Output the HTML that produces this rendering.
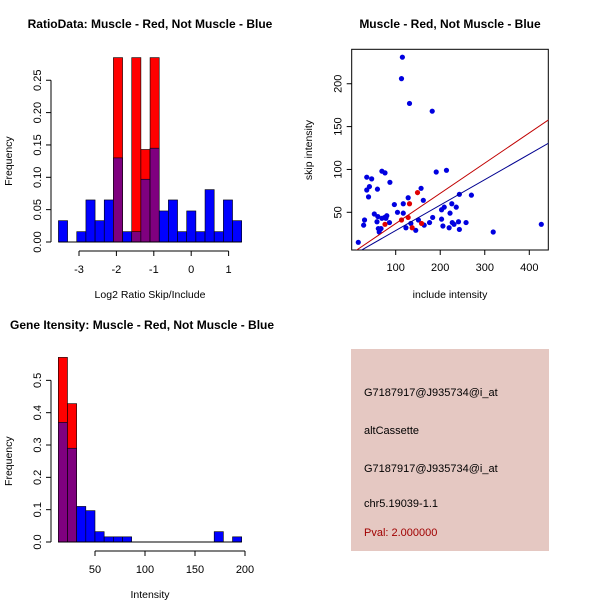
<!DOCTYPE html>
<html><head><meta charset="utf-8"><style>
html,body{margin:0;padding:0;background:#fff}
svg{display:block;font-family:"Liberation Sans",sans-serif}
</style></head><body>
<svg id="c" width="600" height="600" viewBox="0 0 600 600">
<rect width="600" height="600" fill="#fff"/>
<g id="p1"></g>
<g id="p2"></g>
<g id="p3"></g>
<g id="p4">
<rect x="351" y="349" width="198" height="202" fill="#e5c8c2"/>
<text x="364" y="396" font-size="11">G7187917@J935734@i_at</text>
<text x="364" y="434" font-size="11">altCassette</text>
<text x="364" y="472" font-size="11">G7187917@J935734@i_at</text>
<text x="364" y="507" font-size="11">chr5.19039-1.1</text>
<text x="364" y="536" font-size="11" fill="#a00000">Pval: 2.000000</text>
</g>
</svg>
<script>
// ---- Ratio histogram data ----
const ratioBinStart = -3.55, ratioBinWidth = 0.245;
const ratioBlue = [0.033,0,0.016,0.065,0.033,0.065,0.13,0.016,0.016,0.097,0.145,0.048,0.065,0.016,0.048,0.016,0.081,0.016,0.065,0.033];
const ratioRed  = [0,0,0,0,0,0,0.285,0,0.285,0.143,0.285,0,0,0,0,0,0,0,0,0];
const ratioXTicks = [-3,-2,-1,0,1];
const ratioYTicks = [0,0.05,0.10,0.15,0.20,0.25];
const ratioYLabels = ["0.00","0.05","0.10","0.15","0.20","0.25"];
// ---- Intensity histogram data ----
const intBinStart = 13.3, intBinWidth = 9.17;
const intBlue = [0.37,0.29,0.11,0.097,0.032,0.016,0.016,0.016,0,0,0,0,0,0,0,0,0,0.032,0,0.016];
const intRed  = [0.571,0.428,0,0,0,0,0,0,0,0,0,0,0,0,0,0,0,0,0,0];
const intXTicks = [50,100,150,200];
const intYTicks = [0,0.1,0.2,0.3,0.4,0.5];
const intYLabels = ["0.0","0.1","0.2","0.3","0.4","0.5"];
// ---- Scatter data ----
const blueX = [115,113,131,182,16,30,28,35,35,41,46,39,59,69,76,87,52,60,58,61,63,67,69,78,86,75,80,97,104,117,117,123,128,134,145,151,157,162,164,176,183,191,203,206,209,203,214,222,220,226,227,231,236,241,243,243,258,270,319,427];
const blueY = [231,206,177,168,15,41,35,91,76,80,89,68,77,98,96,85,48,45,39,31,27,31,43,43,38,44,46,59,50,60,49,32,67,37,29,41,78,64,35,38,44,97,42,34,56,53,99,49,32,60,38,36,56,39,71,30,38,70,27,36];
const redX = [76,113,128,131,137,149,158];
const redY = [36,41,44,60,32,73,37];
const redFit = [1.6,0.3526];   // intercept, slope
const blueFit = [-1,0.297];
const scXTicks = [100,200,300,400];
const scYTicks = [50,100,150,200];

const NS="http://www.w3.org/2000/svg";
function mk(parent,tag,attrs,text){const e=document.createElementNS(NS,tag);for(const k in attrs)e.setAttribute(k,attrs[k]);if(text!==undefined)e.textContent=text;parent.appendChild(e);return e;}
function title(g,x,y,t,anchor){const e=mk(g,'text',{x:x,y:y,'font-size':12,'font-weight':'bold','text-anchor':anchor||'middle'},t);

}

function hist(g,opt){
  const sx=v=>opt.x0+(v-opt.xv0)*opt.xk, sy=v=>opt.y0-v*opt.yk;
  for(let i=0;i<opt.blue.length;i++){
    const l=sx(opt.bs+i*opt.bw), r=sx(opt.bs+(i+1)*opt.bw), w=r-l;
    const rv=opt.red[i], bv=opt.blue[i];
    if(rv>0){const e=mk(g,'rect',{x:l,y:sy(rv),width:w,height:sy(0)-sy(rv),fill:'#ff0000',stroke:'#000','stroke-width':0.6});
      
      }
    if(bv>0){const mn=Math.min(bv,rv);
      if(bv>mn){const e=mk(g,'rect',{x:l,y:sy(bv),width:w,height:sy(0)-sy(bv),fill:'#0000ff',stroke:'#000','stroke-width':0.6});
        
        }
      if(mn>0){const e=mk(g,'rect',{x:l,y:sy(mn),width:w,height:sy(0)-sy(mn),fill:'#7f007f',stroke:'#000','stroke-width':0.6});
        
        }
    }
  }
  const bl=sx(opt.bs), br=sx(opt.bs+opt.blue.length*opt.bw);
  mk(g,'line',{x1:bl,x2:br,y1:opt.y0,y2:opt.y0,stroke:'#000','stroke-width':1});
  const ya=mk(g,'g',{});
  
  
  mk(ya,'line',{x1:opt.ax,x2:opt.ax,y1:sy(opt.yt[0]),y2:sy(opt.yt[opt.yt.length-1]),stroke:'#000'});
  opt.yt.forEach((v,i)=>{mk(ya,'line',{x1:opt.ax-5,x2:opt.ax,y1:sy(v),y2:sy(v),stroke:'#000'});
    mk(ya,'text',{x:opt.ax-10,y:sy(v),'font-size':11,'text-anchor':'middle',transform:`rotate(-90 ${opt.ax-10} ${sy(v)})`},opt.yl[i]);});
  const xa=mk(g,'g',{});
  
  
  const ay=opt.y0+9;
  mk(xa,'line',{x1:sx(opt.xt[0]),x2:sx(opt.xt[opt.xt.length-1]),y1:ay,y2:ay,stroke:'#000'});
  opt.xt.forEach(v=>{mk(xa,'line',{x1:sx(v),x2:sx(v),y1:ay,y2:ay+5,stroke:'#000'});
    mk(xa,'text',{x:sx(v),y:ay+22,'font-size':11,'text-anchor':'middle'},String(v));});
  const xt=mk(g,'text',{x:opt.xlx,y:opt.y0+56,'font-size':10.5,'text-anchor':'middle'},opt.xlab);
  
  
  const yy=(opt.y0+sy(opt.yt[opt.yt.length-1]))/2;
  const yt=mk(g,'text',{x:12,y:yy,'font-size':10.5,'text-anchor':'middle',transform:`rotate(-90 12 ${yy})`},'Frequency');
  
  
}

const p1=document.getElementById('p1');
title(p1,150,28,'RatioData: Muscle - Red, Not Muscle - Blue');
hist(p1,{x0:79,xv0:-3,xk:37.4,y0:242,yk:647,bs:ratioBinStart,bw:ratioBinWidth,blue:ratioBlue,red:ratioRed,
  xt:ratioXTicks,yt:ratioYTicks,yl:ratioYLabels,ax:51,xlab:'Log2 Ratio Skip/Include',xlx:150});

const p3=document.getElementById('p3');
title(p3,10,329,'Gene Itensity: Muscle - Red, Not Muscle - Blue','start');
hist(p3,{x0:95,xv0:50,xk:1.0,y0:542,yk:323.3,bs:intBinStart,bw:intBinWidth,blue:intBlue,red:intRed,
  xt:intXTicks,yt:intYTicks,yl:intYLabels,ax:51,xlab:'Intensity',xlx:150});

// scatter
const p2=document.getElementById('p2');
title(p2,450,28,'Muscle - Red, Not Muscle - Blue');
const L=351.7,R=548.3,T=49.3,B=250;
const X=v=>395.7+(v-100)*0.4453, Y=v=>212.3-(v-50)*0.857;
const box=mk(p2,'rect',{x:L,y:T,width:R-L,height:B-T,fill:'none',stroke:'#000'});


const cp=mk(p2,'clipPath',{id:'sc'});mk(cp,'rect',{x:L,y:T,width:R-L,height:B-T});
const pts=mk(p2,'g',{'clip-path':'url(#sc)'});
blueX.forEach((v,i)=>{const c=mk(pts,'circle',{cx:X(v),cy:Y(blueY[i]),r:2.6,fill:'#0000e0'});
  
  });
redX.forEach((v,i)=>{const c=mk(pts,'circle',{cx:X(v),cy:Y(redY[i]),r:2.6,fill:'#e00000'});
  
  });
[[redFit,'#c00000','red-fit-line'],[blueFit,'#000090','blue-fit-line']].forEach(([f,col,nm])=>{
  const l=mk(pts,'line',{x1:X(0),y1:Y(f[0]),x2:X(450),y2:Y(f[0]+f[1]*450),stroke:col,'stroke-width':1});
  
  });
scXTicks.forEach(v=>{mk(p2,'line',{x1:X(v),x2:X(v),y1:B,y2:B+5,stroke:'#000'});
  mk(p2,'text',{x:X(v),y:B+21,'font-size':11,'text-anchor':'middle'},String(v));});
scYTicks.forEach(v=>{mk(p2,'line',{x1:L-5,x2:L,y1:Y(v),y2:Y(v),stroke:'#000'});
  mk(p2,'text',{x:L-10,y:Y(v),'font-size':11,'text-anchor':'middle',transform:`rotate(-90 ${L-10} ${Y(v)})`},String(v));});
const sxt=mk(p2,'text',{x:450,y:298,'font-size':10.5,'text-anchor':'middle'},'include intensity');


const syt=mk(p2,'text',{x:312,y:150,'font-size':10.5,'text-anchor':'middle',transform:'rotate(-90 312 150)'},'skip intensity');


</script>
</body></html>
